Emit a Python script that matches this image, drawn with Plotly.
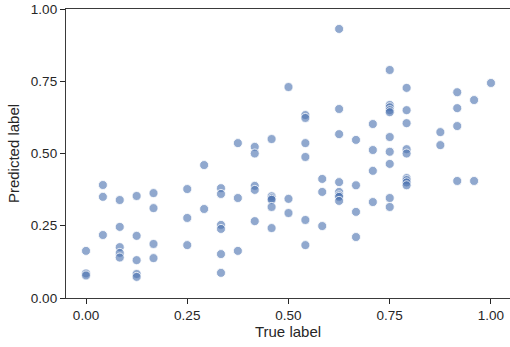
import plotly.graph_objects as go

# True label values (x) and predicted label values (y)
true_label = (
    [0.0, 0.0, 0.0]
    + [0.0417] * 3
    + [0.0833] * 5
    + [0.125] * 5
    + [0.1667] * 4
    + [0.25] * 3
    + [0.2917] * 2
    + [0.3333] * 6
    + [0.375] * 3
    + [0.4167] * 5
    + [0.4583] * 6
    + [0.5] * 3
    + [0.5417] * 6
    + [0.5833] * 3
    + [0.625] * 8
    + [0.6667] * 4
    + [0.7083] * 4
    + [0.75] * 10
    + [0.7917] * 9
    + [0.875] * 2
    + [0.9167] * 4
    + [0.9583] * 2
    + [1.0]
)
predicted_label = [
    0.163, 0.085, 0.078,
    0.391, 0.350, 0.218,
    0.339, 0.246, 0.176, 0.156, 0.140,
    0.353, 0.215, 0.131, 0.083, 0.073,
    0.363, 0.311, 0.187, 0.138,
    0.377, 0.277, 0.183,
    0.460, 0.308,
    0.380, 0.360, 0.253, 0.239, 0.152, 0.087,
    0.536, 0.346, 0.163,
    0.523, 0.500, 0.388, 0.374, 0.266,
    0.550, 0.352, 0.345, 0.340, 0.315, 0.242,
    0.730, 0.343, 0.294,
    0.633, 0.623, 0.536, 0.488, 0.270, 0.183,
    0.412, 0.367, 0.249,
    0.931, 0.654, 0.567, 0.401, 0.367, 0.355, 0.350, 0.336,
    0.547, 0.390, 0.298, 0.211,
    0.602, 0.512, 0.440, 0.332,
    0.789, 0.668, 0.660, 0.650, 0.643, 0.557, 0.506, 0.464, 0.346, 0.315,
    0.727, 0.650, 0.605, 0.515, 0.500, 0.415, 0.408, 0.400, 0.390,
    0.574, 0.529,
    0.712, 0.657, 0.595, 0.405,
    0.685, 0.405,
    0.744,
]
tick_vals = [0.0, 0.25, 0.5, 0.75, 1.0]
tick_text = ["0.00", "0.25", "0.50", "0.75", "1.00"]

FONT = "Liberation Sans, Arial, sans-serif"

fig = go.Figure(
    go.Scatter(
        x=true_label,
        y=predicted_label,
        mode="markers",
        marker=dict(
            size=9,
            color="rgba(76,114,176,0.62)",
            line=dict(color="white", width=0.8),
        ),
        hoverinfo="x+y",
    )
)

axis_common = dict(
    showgrid=False,
    zeroline=False,
    showline=True,
    linecolor="#3a3a3a",
    linewidth=1.3,
    ticks="outside",
    ticklen=5,
    tickwidth=1.2,
    tickcolor="#262626",
    tickfont=dict(family=FONT, size=13.5, color="#262626"),
    tickvals=tick_vals,
    ticktext=tick_text,
)

fig.update_layout(
    width=510,
    height=347,
    margin=dict(l=66, r=0, t=9, b=49),
    paper_bgcolor="white",
    plot_bgcolor="white",
    showlegend=False,
    xaxis=dict(
        range=[-0.0494, 1.047],
        mirror=True,
        title=dict(text="True label", standoff=3,
                   font=dict(family=FONT, size=15, color="#262626")),
        **axis_common,
    ),
    yaxis=dict(
        range=[0, 1],
        title=dict(text="Predicted label", standoff=7,
                   font=dict(family=FONT, size=15, color="#262626")),
        **axis_common,
    ),
)

fig.write_html("out.html")
